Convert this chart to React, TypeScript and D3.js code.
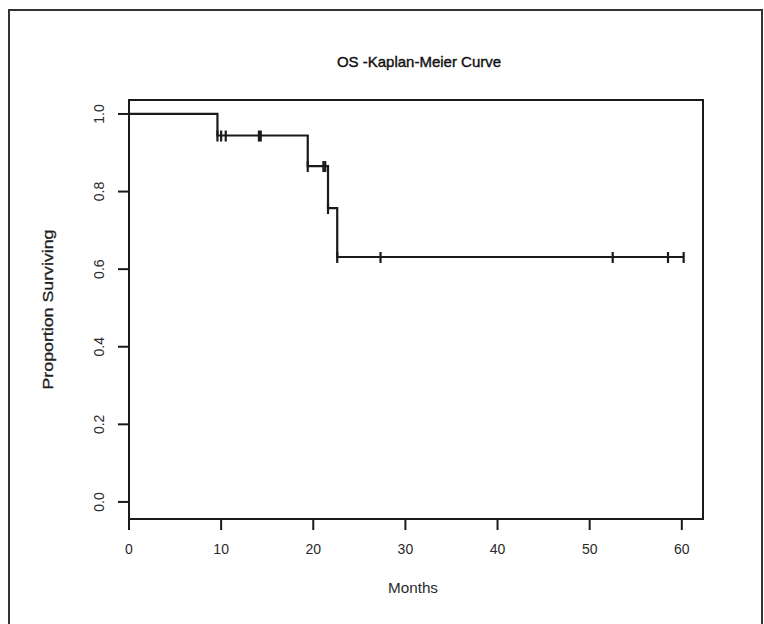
import { useEffect, useRef } from "react";
import * as d3 from "d3";

// follow-up times (months) and status (1 = death, 0 = censored)
const times = [9.6, 9.6, 10.0, 10.5, 14.1, 14.3, 19.4, 19.4, 21.1, 21.3, 21.6, 21.6, 22.6, 22.6, 27.3, 52.5, 58.5, 60.2];
const status = [1, 0, 0, 0, 0, 0, 1, 0, 0, 0, 1, 0, 1, 0, 0, 0, 0, 0];

const xTicks = [0, 10, 20, 30, 40, 50, 60];
const yTicks = [0, 0.2, 0.4, 0.6, 0.8, 1.0];
const yTickLabels = ["0.0", "0.2", "0.4", "0.6", "0.8", "1.0"];

const title = "OS -Kaplan-Meier Curve";
const xTitle = "Months";
const yTitle = "Proportion Surviving";

// Kaplan-Meier estimate
const kaplanMeier = () => {
    const uniq = Array.from(new Set(times)).sort((a, b) => a - b);
    let s = 1;
    const steps = [{ t: 0, s: 1 }];
    const levelAt = new Map();
    uniq.forEach(t => {
        const n = times.filter(v => v >= t).length;
        const d = times.filter((v, i) => v === t && status[i] === 1).length;
        if (d > 0) {
            s = s * (1 - d / n);
            steps.push({ t, s });
        }
        levelAt.set(t, s);
    });
    const last = d3.max(times);
    steps.push({ t: last, s });
    const censored = times
        .map((t, i) => ({ t, st: status[i] }))
        .filter(d => d.st === 0)
        .map(d => ({ t: d.t, s: levelAt.get(d.t) }));
    return { steps, censored };
};

const App = () => {
    const svgRef = useRef();

    useEffect(() => {
        const svg = d3.select(svgRef.current);
        svg.selectAll("*").remove();

        const font = "'Liberation Sans', Arial, sans-serif";
        const ink = "#1a1a1a";
        const txt = "#2a2a2a";

        const left = 129, right = 703, top = 100, bottom = 519;

        const x = d3.scaleLinear().domain([0, 62.3]).range([left, right]);
        const y = d3.scaleLinear().domain([-0.044, 1.036]).range([bottom, top]);

        svg.append("rect")
            .attr("width", 764).attr("height", 624).attr("fill", "#fff");

        // outer frame
        svg.append("rect")
            .attr("x", 9).attr("y", 10).attr("width", 753).attr("height", 640)
            .attr("fill", "none").attr("stroke", "#333").attr("stroke-width", 2);

        // plot box
        svg.append("rect")
            .attr("x", left).attr("y", top)
            .attr("width", right - left).attr("height", bottom - top)
            .attr("fill", "none").attr("stroke", ink).attr("stroke-width", 2);

        // y axis
        const ya = svg.append("g");
        ya.append("line")
            .attr("x1", left).attr("x2", left)
            .attr("y1", y(0)).attr("y2", y(1))
            .attr("stroke", ink).attr("stroke-width", 2);
        ya.selectAll(".yt")
            .data(yTicks)
            .join("line")
            .attr("x1", left - 11).attr("x2", left)
            .attr("y1", d => y(d)).attr("y2", d => y(d))
            .attr("stroke", ink).attr("stroke-width", 2);
        ya.selectAll("text")
            .data(yTicks)
            .join("text")
            .attr("transform", d => `translate(104, ${y(d)}) rotate(-90)`)
            .attr("text-anchor", "middle")
            .attr("font-family", font).attr("font-size", 14)
            .attr("fill", txt)
            .text((_, i) => yTickLabels[i]);

        // x axis
        const xa = svg.append("g");
        xa.selectAll("line")
            .data(xTicks)
            .join("line")
            .attr("x1", d => x(d)).attr("x2", d => x(d))
            .attr("y1", bottom).attr("y2", bottom + 11)
            .attr("stroke", ink).attr("stroke-width", 2);
        xa.selectAll("text")
            .data(xTicks)
            .join("text")
            .attr("x", d => x(d)).attr("y", 554)
            .attr("text-anchor", "middle")
            .attr("font-family", font).attr("font-size", 14)
            .attr("fill", txt)
            .text(d => d);

        // titles
        svg.append("text")
            .attr("x", (left + right) / 2 + 3).attr("y", 67)
            .attr("text-anchor", "middle")
            .attr("font-family", font).attr("font-size", 15)
            .attr("fill", "#111").attr("stroke", "#111").attr("stroke-width", 0.4)
            .text(title);
        svg.append("text")
            .attr("x", (left + right) / 2 - 3).attr("y", 593)
            .attr("text-anchor", "middle")
            .attr("font-family", font).attr("font-size", 14)
            .attr("textLength", 50).attr("lengthAdjust", "spacingAndGlyphs")
            .attr("fill", txt)
            .text(xTitle);
        svg.append("text")
            .attr("transform", `translate(53, ${(top + bottom) / 2}) rotate(-90)`)
            .attr("text-anchor", "middle")
            .attr("font-family", font).attr("font-size", 15)
            .attr("textLength", 160).attr("lengthAdjust", "spacingAndGlyphs")
            .attr("fill", "#222").attr("stroke", "#222").attr("stroke-width", 0.3)
            .text(yTitle);

        // survival curve
        const { steps, censored } = kaplanMeier();
        const line = d3.line()
            .x(d => x(d.t))
            .y(d => y(d.s))
            .curve(d3.curveStepAfter);
        svg.append("path")
            .attr("d", line(steps))
            .attr("fill", "none")
            .attr("stroke", ink)
            .attr("stroke-width", 2.2);

        // censoring marks
        svg.selectAll(".cens")
            .data(censored)
            .join("line")
            .attr("x1", d => x(d.t)).attr("x2", d => x(d.t))
            .attr("y1", d => y(d.s) - 5).attr("y2", d => y(d.s) + 6)
            .attr("stroke", ink)
            .attr("stroke-width", 2.2);
    }, []);

    return (
        <svg
            ref={svgRef}
            width={764}
            height={624}
            style={{ position: "absolute", left: 0, top: 0, display: "block" }}
        />
    );
};

export default App;
